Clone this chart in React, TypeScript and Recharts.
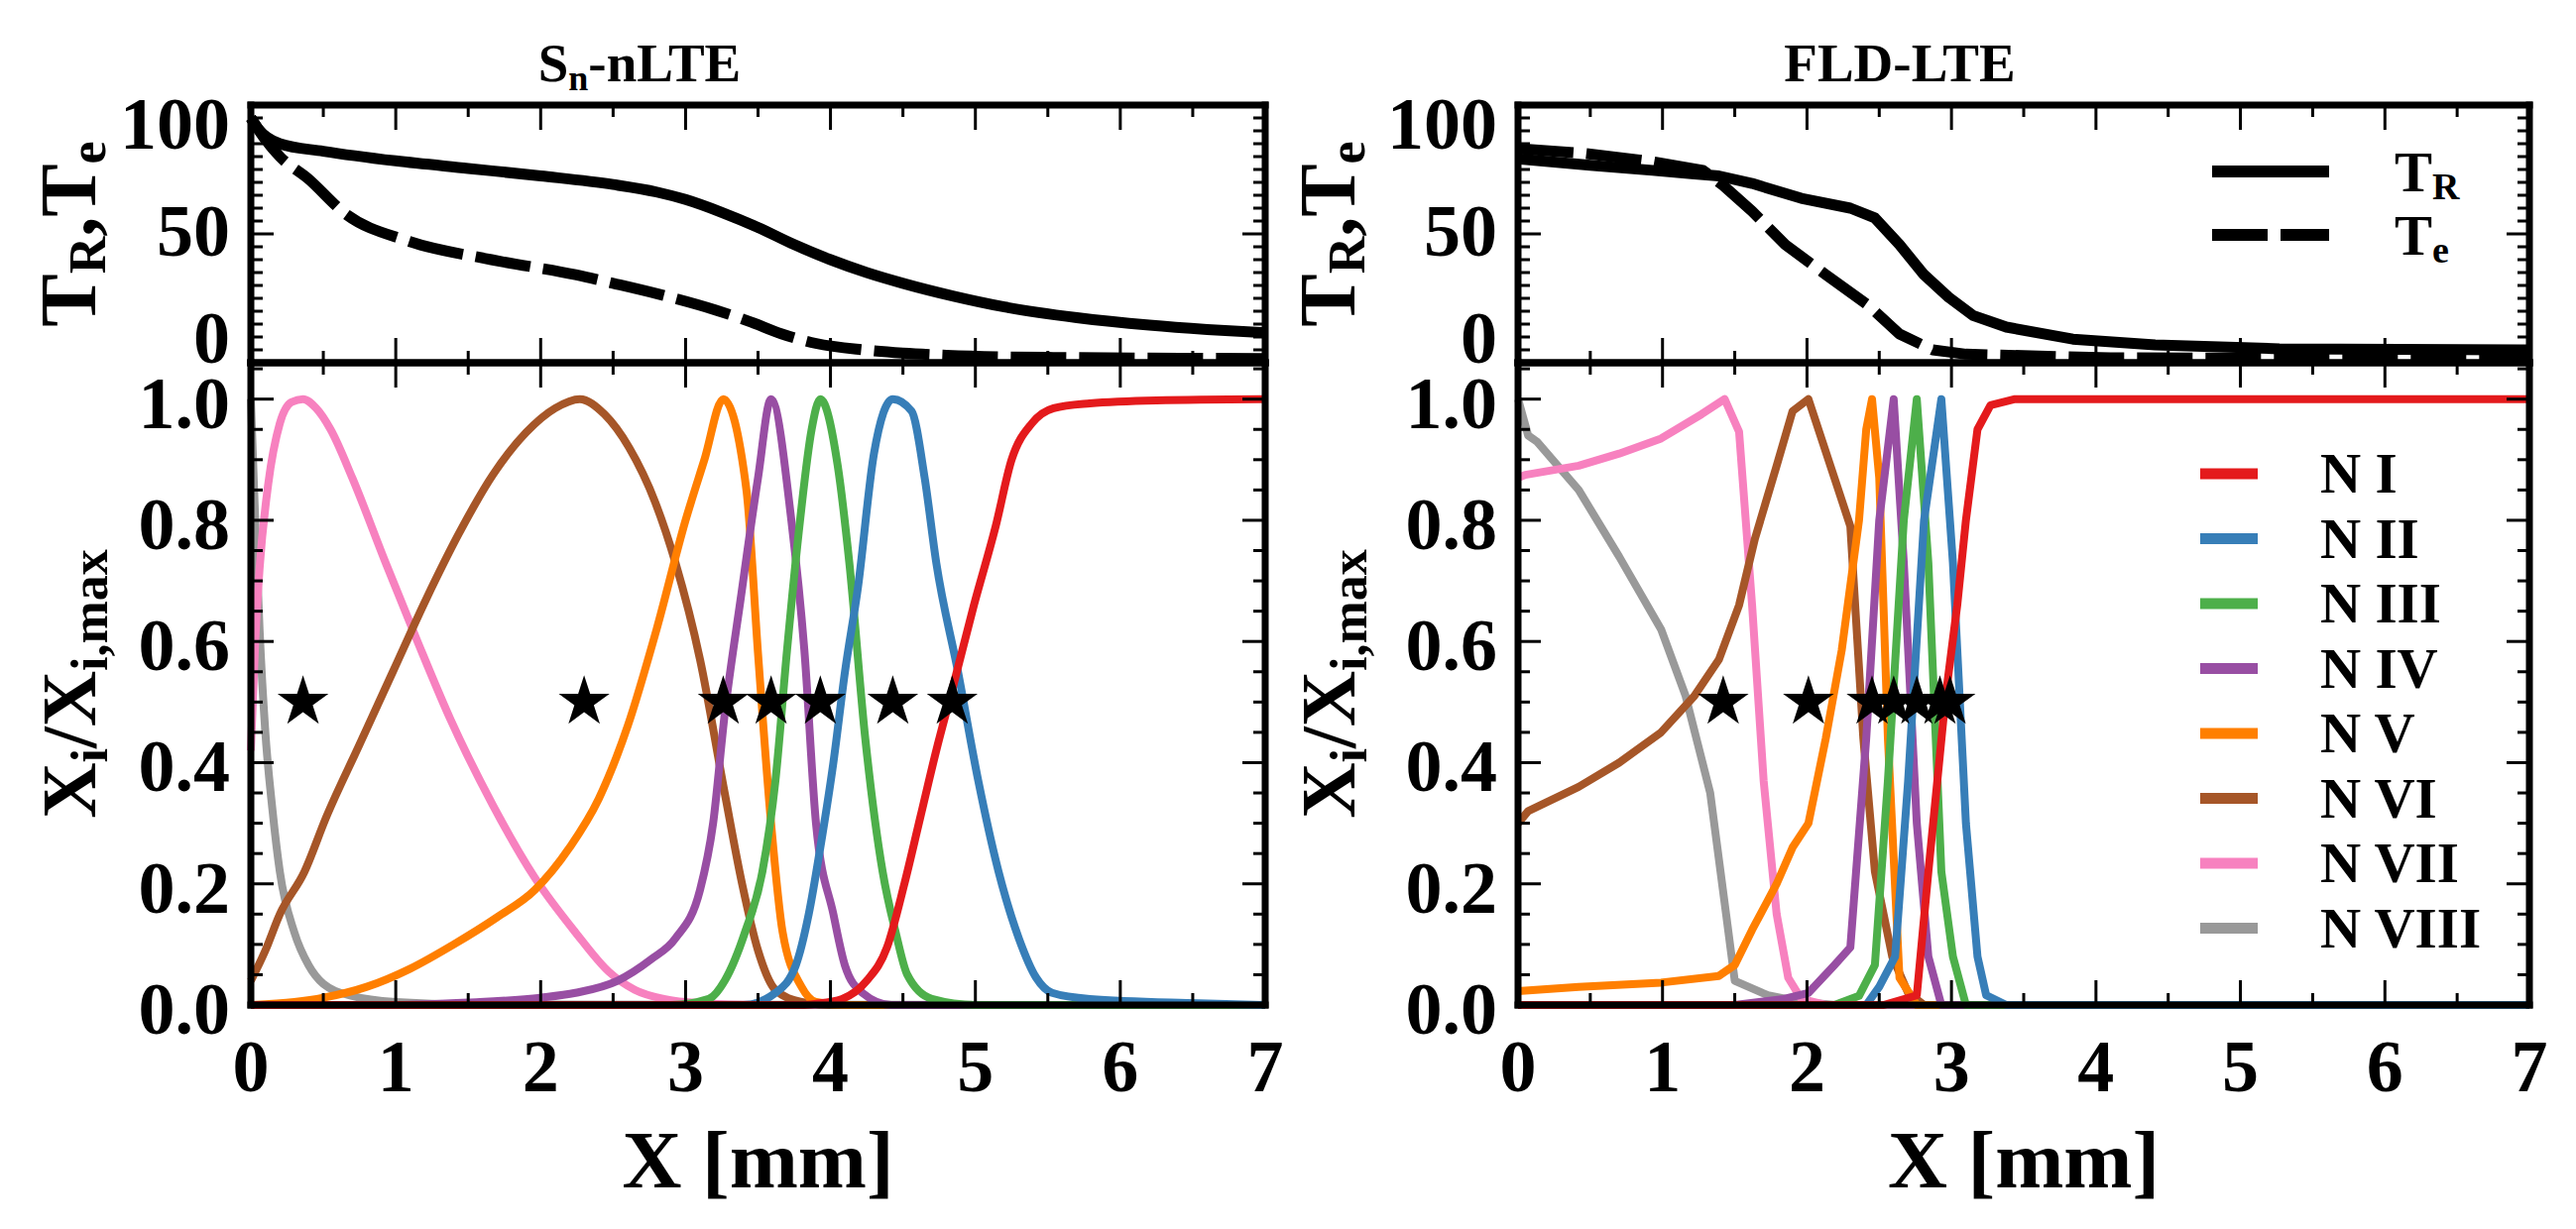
import React from "react";
import { ComposedChart, Line, Scatter, XAxis, YAxis, Label, Legend } from "recharts";

type Pt = [number, number];

const W = 2598;
const H = 1240;
const FONT = "'Liberation Serif', 'Times New Roman', serif";
const INK = "#000";

// frame rows (page px)
const TOP = 106;
const MID = 366;
const BOT = 1014;

// ---- axis ticks / labels ----
const X_TICKS = [0, 0.5, 1, 1.5, 2, 2.5, 3, 3.5, 4, 4.5, 5, 5.5, 6, 6.5, 7];
const T_TICKS = [-10, -4, 2, 8, 14, 20, 26, 32, 38, 44, 50, 56, 62, 68, 74, 80, 86, 92, 98, 104, 110];
const T_LABELS = [0, 50, 100];
const F_TICKS = [0, 0.05, 0.1, 0.15, 0.2, 0.25, 0.3, 0.35, 0.4, 0.45, 0.5, 0.55, 0.6, 0.65, 0.7, 0.75, 0.8, 0.85, 0.9, 0.95, 1.0, 1.05];
const T_DOMAIN: [number, number] = [-10, 110];
const F_DOMAIN: [number, number] = [0, 1.06];

const ION_NAMES = ["N I", "N II", "N III", "N IV", "N V", "N VI", "N VII", "N VIII"];
const ION_COLORS = ["#e41a1c", "#377eb8", "#4daf4a", "#984ea3", "#ff7f00", "#a65628", "#f781bf", "#999999"];

// ---- Sn-nLTE ----
const SN_TR: Pt[] = [[0, 104], [0.05, 99], [0.2, 92], [0.5, 88.5], [1.0, 84], [1.5, 80.5], [2.0, 77], [2.5, 73], [2.8, 69.5], [3.0, 66], [3.25, 60], [3.5, 53], [3.75, 45], [4.0, 38], [4.25, 32], [4.5, 27], [4.85, 21], [5.2, 16], [5.7, 11], [6.2, 7.5], [6.6, 5.5], [7.0, 4]];
const SN_TE: Pt[] = [[0, 104], [0.1, 94], [0.2, 86], [0.39, 76], [0.66, 59], [1.07, 47], [1.66, 38], [2.24, 31], [2.5, 27], [2.81, 22], [3.21, 14.5], [3.45, 9], [3.66, 3.5], [3.9, -1], [4.23, -4], [4.5, -5.5], [4.8, -6.5], [5.5, -7.5], [7.0, -8]];

const SN_N1: Pt[] = [[0, 0], [3.8, 0], [3.9, 0.002], [4.08, 0.01], [4.25, 0.04], [4.39, 0.095], [4.51, 0.2], [4.62, 0.31], [4.73, 0.42], [4.84, 0.52], [4.99, 0.66], [5.14, 0.79], [5.25, 0.9], [5.39, 0.96], [5.54, 0.985], [5.79, 0.993], [6.25, 0.998], [7, 1]];
const SN_N2: Pt[] = [[0, 0], [3.4, 0], [3.62, 0.02], [3.76, 0.065], [3.85, 0.15], [3.93, 0.26], [4.02, 0.4], [4.1, 0.55], [4.19, 0.69], [4.3, 0.91], [4.43, 1.0], [4.56, 0.98], [4.65, 0.87], [4.73, 0.73], [4.88, 0.55], [5.02, 0.37], [5.16, 0.22], [5.3, 0.11], [5.42, 0.045], [5.53, 0.02], [5.79, 0.01], [6.54, 0.003], [7, 0]];
const SN_N3: Pt[] = [[0, 0], [2.9, 0], [3.16, 0.01], [3.27, 0.04], [3.41, 0.12], [3.53, 0.22], [3.62, 0.37], [3.7, 0.585], [3.79, 0.8], [3.87, 0.95], [3.93, 1.0], [4.05, 0.89], [4.13, 0.73], [4.24, 0.44], [4.36, 0.22], [4.45, 0.12], [4.53, 0.05], [4.7, 0.01], [5.0, 0], [7, 0]];
const SN_N4: Pt[] = [[0, 0], [1.0, 0], [1.5, 0.004], [2.0, 0.012], [2.24, 0.02], [2.53, 0.04], [2.76, 0.075], [2.93, 0.11], [3.1, 0.19], [3.19, 0.3], [3.27, 0.48], [3.38, 0.67], [3.5, 0.87], [3.59, 1.0], [3.73, 0.8], [3.82, 0.585], [3.9, 0.3], [4.02, 0.15], [4.1, 0.065], [4.22, 0.02], [4.42, 0], [7, 0]];
const SN_N5: Pt[] = [[0, 0], [0.3, 0.005], [0.5, 0.012], [0.8, 0.03], [1.1, 0.06], [1.4, 0.1], [1.7, 0.145], [1.96, 0.19], [2.2, 0.26], [2.4, 0.34], [2.6, 0.46], [2.8, 0.62], [3.0, 0.8], [3.13, 0.9], [3.26, 1.0], [3.42, 0.85], [3.5, 0.58], [3.59, 0.3], [3.67, 0.12], [3.8, 0.03], [3.9, 0.005], [4.1, 0], [7, 0]];
const SN_N6: Pt[] = [[0, 0.04], [0.1, 0.09], [0.2, 0.15], [0.37, 0.22], [0.52, 0.31], [0.75, 0.43], [0.98, 0.55], [1.21, 0.67], [1.44, 0.78], [1.67, 0.875], [1.9, 0.945], [2.1, 0.985], [2.27, 1.0], [2.44, 0.975], [2.61, 0.92], [2.79, 0.83], [2.93, 0.73], [3.1, 0.57], [3.27, 0.35], [3.39, 0.2], [3.5, 0.09], [3.62, 0.025], [3.8, 0.005], [4.0, 0], [7, 0]];
const SN_N7: Pt[] = [[0, 0.42], [0.03, 0.6], [0.06, 0.72], [0.12, 0.86], [0.2, 0.96], [0.28, 0.995], [0.36, 1.0], [0.45, 0.985], [0.55, 0.95], [0.7, 0.87], [0.93, 0.73], [1.15, 0.6], [1.38, 0.47], [1.67, 0.33], [1.96, 0.21], [2.24, 0.12], [2.47, 0.055], [2.65, 0.025], [2.85, 0.01], [3.1, 0.003], [3.5, 0], [7, 0]];
const SN_N8: Pt[] = [[0, 1.0], [0.03, 0.8], [0.06, 0.62], [0.1, 0.45], [0.15, 0.32], [0.2, 0.22], [0.3, 0.12], [0.4, 0.065], [0.5, 0.035], [0.7, 0.015], [1.0, 0.005], [1.5, 0.001], [7, 0]];
const SN_STARS = [0.36, 2.3, 3.26, 3.59, 3.93, 4.43, 4.84];

// ---- FLD-LTE ----
const FLD_TR: Pt[] = [[0, 85], [0.5, 82], [0.93, 79.6], [1.2, 78], [1.39, 77], [1.62, 73.5], [1.96, 66.6], [2.3, 62], [2.47, 57.4], [2.64, 45], [2.81, 31], [2.98, 20.5], [3.15, 12], [3.38, 6.6], [3.84, 1], [4.41, -1.7], [5.27, -3.5], [7, -4]];
const FLD_TE: Pt[] = [[0, 89.7], [0.47, 87.4], [0.93, 83.7], [1.28, 79.6], [1.42, 72.6], [1.62, 60.6], [1.85, 45], [2.13, 31], [2.42, 17], [2.64, 3.4], [2.87, -4], [3.1, -6], [4.1, -7.7], [7, -8]];

const FLD_N1: Pt[] = [[0, 0], [2.53, 0], [2.76, 0.016], [2.84, 0.22], [2.96, 0.51], [3.04, 0.66], [3.1, 0.8], [3.18, 0.95], [3.27, 0.99], [3.44, 1.0], [7, 1.0]];
const FLD_N2: Pt[] = [[0, 0], [2.41, 0], [2.5, 0.03], [2.61, 0.08], [2.7, 0.37], [2.81, 0.8], [2.93, 1.0], [3.01, 0.73], [3.1, 0.3], [3.18, 0.08], [3.24, 0.016], [3.38, 0], [7, 0]];
const FLD_N3: Pt[] = [[0, 0], [2.19, 0], [2.36, 0.015], [2.47, 0.066], [2.56, 0.37], [2.67, 0.8], [2.76, 1.0], [2.84, 0.73], [2.93, 0.22], [3.01, 0.08], [3.1, 0], [7, 0]];
const FLD_N4: Pt[] = [[0, 0], [1.5, 0], [1.84, 0.01], [2.01, 0.02], [2.19, 0.066], [2.3, 0.095], [2.41, 0.44], [2.5, 0.8], [2.6, 1.0], [2.67, 0.73], [2.76, 0.3], [2.84, 0.08], [2.93, 0], [7, 0]];
const FLD_N5: Pt[] = [[0, 0.023], [0.42, 0.03], [0.99, 0.037], [1.39, 0.048], [1.5, 0.066], [1.62, 0.124], [1.79, 0.2], [1.9, 0.26], [2.01, 0.3], [2.13, 0.44], [2.24, 0.585], [2.36, 0.8], [2.41, 0.95], [2.45, 1.0], [2.5, 0.87], [2.56, 0.44], [2.64, 0.045], [2.76, 0], [7, 0]];
const FLD_N6: Pt[] = [[0, 0.3], [0.07, 0.32], [0.42, 0.36], [0.7, 0.4], [0.99, 0.45], [1.22, 0.51], [1.39, 0.57], [1.53, 0.66], [1.64, 0.77], [1.79, 0.89], [1.9, 0.98], [2.01, 1.0], [2.19, 0.87], [2.3, 0.79], [2.39, 0.44], [2.47, 0.22], [2.59, 0.08], [2.7, 0.02], [2.81, 0], [7, 0]];
const FLD_N7: Pt[] = [[0, 0.87], [0.05, 0.875], [0.42, 0.89], [0.7, 0.91], [0.99, 0.935], [1.27, 0.975], [1.43, 1.0], [1.53, 0.946], [1.62, 0.66], [1.7, 0.37], [1.79, 0.15], [1.87, 0.045], [1.96, 0.01], [2.13, 0], [7, 0]];
const FLD_N8: Pt[] = [[0, 1.0], [0.07, 0.94], [0.13, 0.93], [0.42, 0.85], [0.7, 0.74], [0.99, 0.62], [1.16, 0.51], [1.33, 0.35], [1.44, 0.15], [1.5, 0.04], [1.73, 0.016], [1.96, 0.005], [2.2, 0], [7, 0]];
const FLD_STARS = [1.42, 2.01, 2.45, 2.6, 2.76, 2.92, 2.99];

const SN_IONS = [SN_N1, SN_N2, SN_N3, SN_N4, SN_N5, SN_N6, SN_N7, SN_N8];
const FLD_IONS = [FLD_N1, FLD_N2, FLD_N3, FLD_N4, FLD_N5, FLD_N6, FLD_N7, FLD_N8];

type Col = { l: number; r: number; yLabelX: number; titleX: number };
const LEFT: Col = { l: 253, r: 1276, yLabelX: 96, titleX: 645 };
const RIGHT: Col = { l: 1531, r: 2551, yLabelX: 1366, titleX: 1916 };

const FRAME = { stroke: INK, strokeWidth: 7, strokeLinecap: "square" as const };
const bold = { fontFamily: FONT, fontWeight: 700, fill: INK };

const pts = (a: Pt[]) => a.map(([x, y]) => ({ x, y }));

function starPath(cx: number, cy: number, R: number, r: number) {
  let d = "";
  for (let i = 0; i < 10; i++) {
    const rad = i % 2 === 0 ? R : r;
    const a = -Math.PI / 2 + (i * Math.PI) / 5;
    d += (i ? "L" : "M") + (cx + rad * Math.cos(a)).toFixed(1) + "," + (cy + rad * Math.sin(a)).toFixed(1);
  }
  return d + "Z";
}

const StarMark = (p: any) => <path d={starPath(p.cx, p.cy, 27, 10.3)} fill={INK} />;

const isInt = (v: number) => Math.abs(v - Math.round(v)) < 1e-6;
const isFifth = (v: number) => Math.abs(v * 5 - Math.round(v * 5)) < 1e-6;

// inward x ticks on a horizontal frame edge; dir = +1 points down
const xTick = (edge: number, dir: number, labels: boolean) => (p: any) => {
  const v = p.payload.value;
  const major = isInt(v);
  return (
    <g>
      <line x1={p.x} x2={p.x} y1={edge} y2={edge + dir * (major ? 25 : 12)} stroke={INK} strokeWidth={3} />
      {labels && major ? (
        <text x={p.x} y={1101} textAnchor="middle" fontSize={74} {...bold}>
          {v}
        </text>
      ) : null}
    </g>
  );
};

// inward y ticks on a vertical frame edge; dir = +1 points right
const yTick = (edge: number, dir: number, major: (v: number) => boolean, label?: (v: number) => string | null) => (p: any) => {
  const v = p.payload.value;
  const big = major(v);
  const text = label ? label(v) : null;
  return (
    <g>
      <line x1={edge} x2={edge + dir * (big ? 23 : 12)} y1={p.y} y2={p.y} stroke={INK} strokeWidth={3} />
      {text ? (
        <text x={edge - 21} y={p.y + 29} textAnchor="end" fontSize={74} {...bold}>
          {text}
        </text>
      ) : null}
    </g>
  );
};

const yTickLabelOnly = (edge: number) => (p: any) => (
  <text x={edge - 21} y={p.y + 22} textAnchor="end" fontSize={74} {...bold}>
    {String(p.payload.value)}
  </text>
);

function TempLegend() {
  return (
    <svg width={300} height={170}>
      <line x1={31} x2={149} y1={43} y2={43} stroke={INK} strokeWidth={12} />
      <line x1={31} x2={149} y1={107} y2={107} stroke={INK} strokeWidth={12} strokeDasharray="56 13" />
      <text x={215} y={63} fontSize={57} {...bold}>
        T<tspan fontSize={38} dy={8}>R</tspan>
      </text>
      <text x={215} y={127} fontSize={57} {...bold}>
        T<tspan fontSize={38} dy={8}>e</tspan>
      </text>
    </svg>
  );
}

function IonLegend() {
  return (
    <svg width={330} height={580}>
      {ION_NAMES.map((name, i) => {
        const y = 38 + i * 65.5;
        return (
          <g key={name}>
            <line x1={19} x2={77} y1={y} y2={y} stroke={ION_COLORS[i]} strokeWidth={11} />
            <text x={140} y={y + 19} fontSize={57} {...bold}>
              {name}
            </text>
          </g>
        );
      })}
    </svg>
  );
}

function TempPanel({ col, title, tr, te, curve, legend }: { col: Col; title: React.ReactNode; tr: Pt[]; te: Pt[]; curve: "monotone" | "linear"; legend?: boolean }) {
  const yl = col.yLabelX;
  const cy = (TOP + MID) / 2;
  return (
    <div style={{ position: "absolute", left: 0, top: 0 }}>
      <ComposedChart width={W} height={H} margin={{ top: TOP - 1, bottom: H - MID - 1, left: col.l - 2, right: W - col.r - 1 }}>
        <XAxis xAxisId={0} dataKey="x" type="number" domain={[0, 7]} ticks={X_TICKS} interval={0} height={1} axisLine={FRAME} tickLine={false} tick={xTick(MID, -1, false)} />
        <XAxis
          xAxisId="top"
          orientation="top"
          dataKey="x"
          type="number"
          domain={[0, 7]}
          ticks={X_TICKS}
          interval={0}
          height={1}
          allowDataOverflow
          axisLine={FRAME}
          tickLine={false}
          tick={xTick(TOP, 1, false)}
          label={<Label content={() => title} />}
        />
        <YAxis
          yAxisId="t"
          dataKey="y"
          type="number"
          domain={T_DOMAIN}
          ticks={T_TICKS}
          interval={0}
          width={1}
          axisLine={FRAME}
          tickLine={false}
          tick={yTick(col.l, 1, (v) => v === 50)}
          label={
            <Label
              content={() => (
                <text transform={`rotate(-90 ${yl} ${cy})`} x={yl} y={cy} textAnchor="middle" fontSize={80} {...bold}>
                  T<tspan fontSize={52} dy={10}>R</tspan>
                  <tspan dy={-10}>,</tspan>
                  <tspan>T</tspan>
                  <tspan fontSize={52} dy={10}>e</tspan>
                </text>
              )}
            />
          }
        />
        <YAxis yAxisId="tl" type="number" domain={T_DOMAIN} ticks={T_LABELS} interval={0} width={1} allowDataOverflow axisLine={false} tickLine={false} tick={yTickLabelOnly(col.l)} />
        <YAxis yAxisId="tr" orientation="right" type="number" domain={T_DOMAIN} ticks={T_TICKS} interval={0} width={1} allowDataOverflow axisLine={FRAME} tickLine={false} tick={yTick(col.r, -1, (v) => v === 50)} />
        <Line data={pts(tr)} dataKey="y" yAxisId="t" type={curve} stroke={INK} strokeWidth={11} dot={false} activeDot={false} isAnimationActive={false} strokeLinejoin="round" />
        <Line data={pts(te)} dataKey="y" yAxisId="t" type={curve} stroke={INK} strokeWidth={11} strokeDasharray="56 13" dot={false} activeDot={false} isAnimationActive={false} strokeLinejoin="round" />
        {legend ? (
          <Legend
            layout="horizontal"
            verticalAlign="middle"
            align="center"
            wrapperStyle={{ position: "absolute", left: 2200, top: 130, width: 300, height: 170 }}
            content={() => <TempLegend />}
          />
        ) : null}
      </ComposedChart>
    </div>
  );
}

function FracPanel({ col, ions, stars, curve, legend }: { col: Col; ions: Pt[][]; stars: number[]; curve: "monotone" | "linear"; legend?: boolean }) {
  const yl = col.yLabelX;
  const cy = (MID + BOT) / 2;
  const order = [7, 6, 5, 4, 3, 2, 1, 0];
  return (
    <div style={{ position: "absolute", left: 0, top: 0 }}>
      <ComposedChart width={W} height={H} margin={{ top: MID - 1, bottom: H - BOT - 1, left: col.l - 1, right: W - col.r - 1 }}>
        <XAxis
          xAxisId={0}
          dataKey="x"
          type="number"
          domain={[0, 7]}
          ticks={X_TICKS}
          interval={0}
          height={1}
          axisLine={FRAME}
          tickLine={false}
          tick={xTick(BOT, -1, true)}
          label={
            <Label
              content={() => (
                <text x={(col.l + col.r) / 2} y={1198} textAnchor="middle" fontSize={83} {...bold}>
                  X [mm]
                </text>
              )}
            />
          }
        />
        <XAxis xAxisId="top" orientation="top" dataKey="x" type="number" domain={[0, 7]} ticks={X_TICKS} interval={0} height={1} allowDataOverflow axisLine={FRAME} tickLine={false} tick={xTick(MID, 1, false)} />
        <YAxis
          yAxisId="f"
          dataKey="y"
          type="number"
          domain={F_DOMAIN}
          ticks={F_TICKS}
          interval={0}
          width={1}
          axisLine={FRAME}
          tickLine={false}
          tick={yTick(col.l, 1, isFifth, (v) => (isFifth(v) && v < 1.01 ? v.toFixed(1) : null))}
          label={
            <Label
              content={() => (
                <text transform={`rotate(-90 ${yl} ${cy})`} x={yl} y={cy} textAnchor="middle" fontSize={78} {...bold}>
                  X<tspan fontSize={52} dy={12}>i</tspan>
                  <tspan dy={-12}>/X</tspan>
                  <tspan fontSize={52} dy={12}>i,max</tspan>
                </text>
              )}
            />
          }
        />
        <YAxis yAxisId="fr" orientation="right" type="number" domain={F_DOMAIN} ticks={F_TICKS} interval={0} width={1} allowDataOverflow axisLine={FRAME} tickLine={false} tick={yTick(col.r, -1, isFifth)} />
        {order.map((i) => (
          <Line
            key={ION_NAMES[i]}
            name={ION_NAMES[i]}
            data={pts(ions[i])}
            dataKey="y"
            yAxisId="f"
            type={curve}
            stroke={ION_COLORS[i]}
            strokeWidth={8}
            dot={false}
            activeDot={false}
            isAnimationActive={false}
            strokeLinejoin="round"
          />
        ))}
        <Scatter data={stars.map((x) => ({ x, y: 0.5 }))} yAxisId="f" dataKey="y" fill={INK} shape={StarMark} isAnimationActive={false} />
        {legend ? (
          <Legend
            layout="horizontal"
            verticalAlign="middle"
            align="center"
            wrapperStyle={{ position: "absolute", left: 2200, top: 440, width: 330, height: 580 }}
            content={() => <IonLegend />}
          />
        ) : null}
      </ComposedChart>
    </div>
  );
}

export default function App() {
  const snTitle = (
    <text x={LEFT.titleX} y={82} textAnchor="middle" fontSize={55} {...bold}>
      S<tspan fontSize={36} dy={9}>n</tspan>
      <tspan dy={-9}>-nLTE</tspan>
    </text>
  );
  const fldTitle = (
    <text x={RIGHT.titleX} y={82} textAnchor="middle" fontSize={55} {...bold}>
      FLD-LTE
    </text>
  );
  return (
    <div style={{ position: "absolute", left: 0, top: 0, width: W, height: H, background: "#fff", overflow: "hidden" }}>
      <TempPanel col={LEFT} title={snTitle} tr={SN_TR} te={SN_TE} curve="monotone" />
      <FracPanel col={LEFT} ions={SN_IONS} stars={SN_STARS} curve="monotone" />
      <TempPanel col={RIGHT} title={fldTitle} tr={FLD_TR} te={FLD_TE} curve="linear" legend />
      <FracPanel col={RIGHT} ions={FLD_IONS} stars={FLD_STARS} curve="linear" legend />
    </div>
  );
}
